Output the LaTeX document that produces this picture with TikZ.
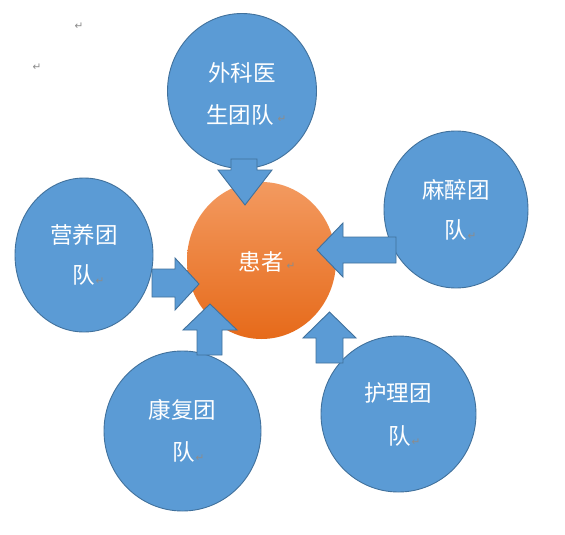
\documentclass[tikz,border=0pt]{standalone}
\usepackage{fontspec}
\newfontfamily\cjk{Noto Sans CJK SC}
\newfontfamily\symfont{DejaVu Sans}
\usetikzlibrary{shapes.geometric}
\definecolor{teamblue}{HTML}{5B9BD5}
\definecolor{teamedge}{HTML}{41719C}
\definecolor{orangetop}{HTML}{F39A60}
\definecolor{orangebot}{HTML}{E66A1A}
\definecolor{markgray}{HTML}{8C8C8C}
\tikzset{
  team/.style={ellipse, draw=teamedge, line width=0.9pt, fill=teamblue, inner sep=0pt},
  patient/.style={ellipse, draw=none, top color=orangetop, bottom color=orangebot, inner sep=0pt},
  blockarrow/.style={draw=teamedge, line width=0.9pt, fill=teamblue, line join=miter},
  label/.style={text=white, font=\cjk\fontsize{22.5}{27}\selectfont, inner sep=0pt, anchor=center},
  pmark/.style={text=markgray, font=\symfont\fontsize{10.5}{12}\selectfont, inner sep=0pt, anchor=center}
}
\begin{document}
\begin{tikzpicture}[x=1pt,y=-1pt]
\useasboundingbox (0,0) rectangle (565,535);
\fill[white] (0,0) rectangle (565,535);
% stray paragraph marks
\node[pmark] (m1) at (79,26) {↵};
\node[pmark] (m2) at (37,67) {↵};
% team circles
\node[team, minimum width=149pt, minimum height=155pt] (surg) at (242,91) {};
\node[team, minimum width=144pt, minimum height=157pt] (anes) at (456,209.5) {};
\node[team, minimum width=138pt, minimum height=154pt] (nutr) at (84,255) {};
\node[team, minimum width=157pt, minimum height=160pt] (rehab) at (182.5,431) {};
\node[team, minimum width=155pt, minimum height=156pt] (nurse) at (398.5,414) {};
% patient
\node[patient, minimum width=149pt, minimum height=157pt] (pat) at (261.5,260.5) {};
% labels
\node[label] (surg1) at (242,73) {外科医};
\node[label] (surg2) at (240,115) {生团队};
\node[pmark] (surgm) at (282,119) {↵};
\node[label] (pat1) at (261,262) {患者};
\node[pmark] (patm) at (291,266) {↵};
\node[label] (anes1) at (456,190) {麻醉团};
\node[label] (anes2) at (456,230) {队};
\node[pmark] (anesm) at (472,236) {↵};
\node[label] (nutr1) at (84,235) {营养团};
\node[label] (nutr2) at (84,275) {队};
\node[pmark] (nutrm) at (100,281) {↵};
\node[label] (reh1) at (182.5,410) {康复团};
\node[label] (reh2) at (183.5,452) {队};
\node[pmark] (rehm) at (200,458) {↵};
\node[label] (nur1) at (398,393) {护理团};
\node[label] (nur2) at (399.5,436) {队};
\node[pmark] (nurm) at (416,442) {↵};
% block arrows
\draw[blockarrow] (231,159) -- (257,159) -- (257,170) -- (272,170) -- (245,205) -- (218,170) -- (231,170) -- cycle;
\draw[blockarrow] (396,237) -- (396,263) -- (343,263) -- (343,277) -- (317,250) -- (343,223) -- (343,237) -- cycle;
\draw[blockarrow] (152,269) -- (175,269) -- (175,258) -- (199,284) -- (175,310) -- (175,297) -- (152,297) -- cycle;
\draw[blockarrow] (197,355) -- (197,330) -- (183,330) -- (210,304) -- (237,330) -- (222,330) -- (222,355) -- cycle;
\draw[blockarrow] (316,363) -- (316,338) -- (303,338) -- (329.5,312) -- (356,338) -- (343,338) -- (343,363) -- cycle;
\end{tikzpicture}
\end{document}
